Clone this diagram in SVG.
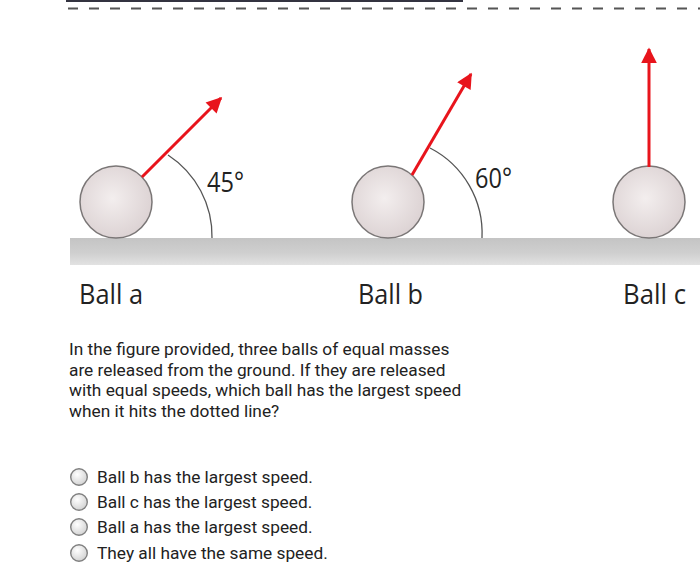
<svg xmlns="http://www.w3.org/2000/svg" width="700" height="580" viewBox="0 0 700 580">
<defs>
<radialGradient id="ballFill" cx="0.45" cy="0.45" r="0.6">
<stop offset="0" stop-color="#f3eeee"/>
<stop offset="1" stop-color="#dbd1d2"/>
</radialGradient>
<linearGradient id="ground" x1="0" y1="0" x2="0" y2="1">
<stop offset="0" stop-color="#c4c4c4"/>
<stop offset="0.55" stop-color="#cfcfcf"/>
<stop offset="1" stop-color="#e2e2e2"/>
</linearGradient>
<radialGradient id="radioFill" cx="0.4" cy="0.35" r="0.7">
<stop offset="0" stop-color="#ffffff"/>
<stop offset="1" stop-color="#d0d0d0"/>
</radialGradient>
<marker id="head" viewBox="0 0 10 10" refX="9" refY="5" markerWidth="6" markerHeight="5.2" orient="auto" markerUnits="strokeWidth">
<path d="M0,0 L10,5 L0,10 Z" fill="#e8141c"/>
</marker>
</defs>
<style>
.ball{fill:url(#ballFill);stroke:#7a7676;stroke-width:1.5}
.arrow{stroke:#e8141c;stroke-width:3;fill:none;marker-end:url(#head)}
.arc{stroke:#555;stroke-width:1.3;fill:none}
.lbl{font-family:"Open Sans","Noto Sans",sans-serif;font-size:27px;fill:#222}
.ang{font-family:"Open Sans","Noto Sans",sans-serif;font-size:27px;fill:#222}
.q{font-family:Roboto,"Liberation Sans",sans-serif;font-size:17.3px;fill:#222}
.radio{fill:url(#radioFill);stroke:#808080;stroke-width:1.4}
</style>
<rect width="700" height="580" fill="#ffffff"/>
<line x1="66" y1="1" x2="463" y2="1" stroke="#333340" stroke-width="2"/>
<line x1="68" y1="8.5" x2="700" y2="8.5" stroke="#555" stroke-width="2.2" stroke-dasharray="10 11"/>
<rect id="ground" x="70" y="238" width="630" height="27" fill="url(#ground)"/>
<g id="ball-a">
<circle class="ball" cx="116" cy="202" r="36"/>
<text class="ang" x="207" y="192" textLength="37" lengthAdjust="spacingAndGlyphs">45°</text>
<text class="lbl" x="79" y="304" textLength="64" lengthAdjust="spacingAndGlyphs">Ball a</text>
</g>
<g id="ball-b">
<circle class="ball" cx="388" cy="202" r="36"/>
<text class="ang" x="475" y="188" textLength="37" lengthAdjust="spacingAndGlyphs">60°</text>
<text class="lbl" x="358" y="304" textLength="65" lengthAdjust="spacingAndGlyphs">Ball b</text>
</g>
<g id="ball-c">
<circle class="ball" cx="649" cy="202" r="36"/>
<text class="lbl" x="623" y="304" textLength="63" lengthAdjust="spacingAndGlyphs">Ball c</text>
</g>
<g id="connectors">
<path class="arc" d="M168,155 A97,97 0 0 1 212,238"/>
<path class="arc" d="M430,148 A96,96 0 0 1 482,238"/>
<line class="arrow" x1="142" y1="177" x2="221" y2="98"/>
<line class="arrow" x1="412" y1="175" x2="471" y2="74"/>
<line class="arrow" x1="649" y1="167" x2="649" y2="49"/>
</g>
<g id="question">
<text class="q" x="69" y="355">In the figure provided, three balls of equal masses</text>
<text class="q" x="69" y="376">are released from the ground. If they are released</text>
<text class="q" x="69" y="396">with equal speeds, which ball has the largest speed</text>
<text class="q" x="69" y="417">when it hits the dotted line?</text>
</g>
<g id="options">
<circle class="radio" cx="79" cy="477" r="8.3"/>
<text class="q" x="97" y="483">Ball b has the largest speed.</text>
<circle class="radio" cx="79" cy="502" r="8.3"/>
<text class="q" x="97" y="508">Ball c has the largest speed.</text>
<circle class="radio" cx="79" cy="527" r="8.3"/>
<text class="q" x="97" y="533">Ball a has the largest speed.</text>
<circle class="radio" cx="79" cy="553" r="8.3"/>
<text class="q" x="97" y="559">They all have the same speed.</text>
</g>
</svg>
